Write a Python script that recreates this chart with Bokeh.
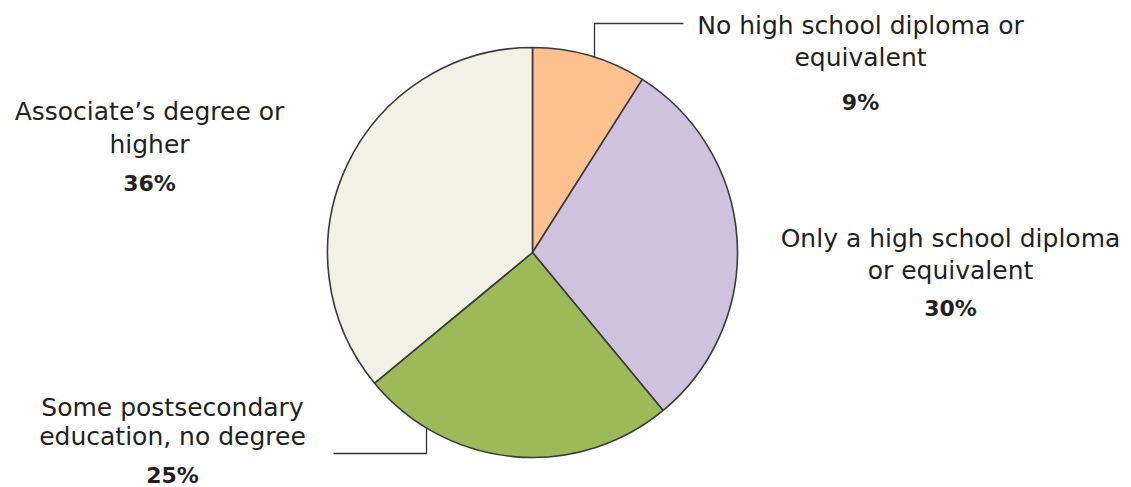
import math
from bokeh.plotting import figure
from bokeh.models import Range1d
from bokeh.core.properties import value
from bokeh.embed import file_html
from bokeh.resources import INLINE

# ---- data ----
categories = ["No high school diploma or\nequivalent",
              "Only a high school diploma\nor equivalent",
              "Some postsecondary\neducation, no degree",
              "Associate\u2019s degree or\nhigher"]
shares = [9, 30, 25, 36]
pct_labels = ["9%", "30%", "25%", "36%"]
colors = ["#FDC08F", "#CEC2DF", "#9DBA59", "#F2F1E5"]

# ---- layout (screen pixels) ----
W, H = 1131, 487
OX, OY = 0, 0
CX, CY, R = 532, 252, 205
FONT = "DejaVu Sans"
TXT = "#231F20"

# label anchors: (center x, first line y, line spacing, percent y)
label_pos = [(860, 25, 32, 102),
             (950, 238, 32, 308),
             (172, 407, 29, 475),
             (149, 111, 33, 183)]

p = figure(width=W, height=H, output_backend="svg", toolbar_location=None,
           x_range=Range1d(OX, OX + W), y_range=Range1d(-(OY + H), -OY),
           min_border=0, outline_line_color=None)
p.axis.visible = False
p.grid.visible = False
p.background_fill_color = "white"
p.border_fill_color = "white"

total = float(sum(shares))
cum = 0.0
for s, c in zip(shares, colors):
    a0 = math.pi / 2 - 2 * math.pi * cum / total
    cum += s
    a1 = math.pi / 2 - 2 * math.pi * cum / total
    p.wedge(x=[CX], y=[-CY], radius=R, start_angle=a1, end_angle=a0,
            direction="anticlock", fill_color=c, line_color="#3a3a3a",
            line_width=1.6)

# leader lines
p.line(x=[594, 594, 683], y=[-57, -23, -23], line_color="#333333", line_width=1.3)
p.line(x=[426, 426, 333], y=[-428, -453, -453], line_color="#333333", line_width=1.3)

for cat, pct, (lx, ly, dy, py) in zip(categories, pct_labels, label_pos):
    lines = cat.split("\n")
    for i, ln in enumerate(lines):
        p.text(x=[lx], y=[-(ly + i * dy)], text=[ln], text_align="center",
               text_baseline="middle", text_font=value(FONT),
               text_font_size="25px", text_color=TXT)
    p.text(x=[lx], y=[-py], text=[pct], text_align="center",
           text_baseline="middle", text_font=value(FONT),
           text_font_size="22px", text_font_style="bold", text_color=TXT)

open("out.html", "w").write(file_html(p, INLINE))
